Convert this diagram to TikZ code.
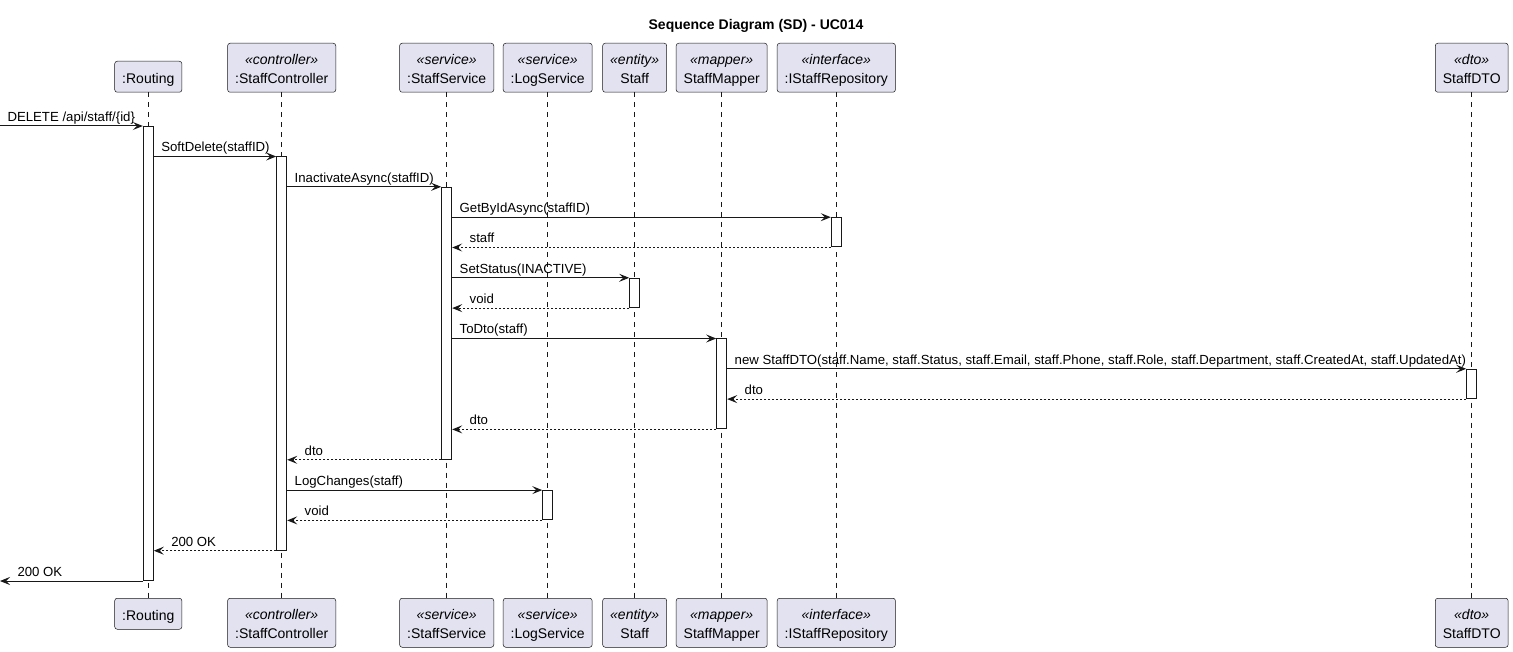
\documentclass[tikz,border=0pt]{standalone}
\usepackage{fontspec}
\setmainfont{Liberation Sans}
\usetikzlibrary{arrows.meta}
\definecolor{partfill}{HTML}{E2E2F0}
\definecolor{umlline}{HTML}{181818}
% stereotype on top, participant name below
\newcommand{\twoline}[2]{\rule{0pt}{21.3pt}\textit{«#1»}\\#2\rule[-8.7pt]{0pt}{8.7pt}}
\tikzset{
% participant boxes and activation bars
part base/.style={draw=umlline,line width=0.5pt,fill=partfill,rounded corners=2.5pt,inner xsep=7.5pt,inner ysep=0pt,font=\fontsize{14}{19}\selectfont,anchor=north},
part node/.style={part base,align=center},
part one node/.style={part base,text height=22.3pt,text depth=8.7pt},
act node/.style={draw=umlline,line width=1pt,fill=white,minimum width=10pt,inner sep=0pt,anchor=north},
lifeline/.style={draw=umlline,line width=0.5pt,dash pattern=on 5pt off 5pt},
% messages and their labels
msg/.style={color=umlline,line width=1pt,-{Stealth[length=10pt,width=8pt,inset=4pt]}},
ret/.style={msg,dash pattern=on 2pt off 2pt},
lbl/.style={anchor=base west,yshift=4.5pt,inner sep=0pt,text=black,font=\fontsize{13.2}{15}\selectfont},
call label/.style={lbl,pos=0,xshift=7pt},
ret label/.style={lbl,pos=1,xshift=17pt}
}

\begin{document}
\begin{tikzpicture}[x=1pt,y=-1pt]
\useasboundingbox (0,0) rectangle (1513,652);
\node[font=\bfseries\fontsize{14}{17}\selectfont,anchor=base] (title) at (756,30) {Sequence Diagram (SD) - UC014};

% participants, top row
\node[part one node] (pRouting) at (148.3,61) {:Routing};
\node[part node] (pCtrl) at (281.7,43) {\twoline{controller}{:StaffController}};
\node[part node] (pSvc) at (446.7,43) {\twoline{service}{:StaffService}};
\node[part node] (pLog) at (547.7,43) {\twoline{service}{:LogService}};
\node[part node] (pStaff) at (634.7,43) {\twoline{entity}{Staff}};
\node[part node] (pMapper) at (721.7,43) {\twoline{mapper}{StaffMapper}};
\node[part node] (pRepo) at (836.3,43) {\twoline{interface}{:IStaffRepository}};
\node[part node] (pDto) at (1471.7,43) {\twoline{dto}{StaffDTO}};

% participants, bottom row
\node[part one node] (qRouting) at (148.3,598) {:Routing};
\node[part node] (qCtrl) at (281.7,598) {\twoline{controller}{:StaffController}};
\node[part node] (qSvc) at (446.7,598) {\twoline{service}{:StaffService}};
\node[part node] (qLog) at (547.7,598) {\twoline{service}{:LogService}};
\node[part node] (qStaff) at (634.7,598) {\twoline{entity}{Staff}};
\node[part node] (qMapper) at (721.7,598) {\twoline{mapper}{StaffMapper}};
\node[part node] (qRepo) at (836.3,598) {\twoline{interface}{:IStaffRepository}};
\node[part node] (qDto) at (1471.7,598) {\twoline{dto}{StaffDTO}};

% lifelines
\draw[lifeline] (pRouting) -- (qRouting);
\draw[lifeline] (pCtrl) -- (qCtrl);
\draw[lifeline] (pSvc) -- (qSvc);
\draw[lifeline] (pLog) -- (qLog);
\draw[lifeline] (pStaff) -- (qStaff);
\draw[lifeline] (pMapper) -- (qMapper);
\draw[lifeline] (pRepo) -- (qRepo);
\draw[lifeline] (pDto) -- (qDto);

% activation bars
\node[act node,minimum height=454pt] (aRouting) at (148.3,126) {};
\node[act node,minimum height=393.2pt] (aCtrl) at (281.7,156.5) {};
\node[act node,minimum height=272pt] (aSvc) at (446.7,186.8) {};
\node[act node,minimum height=29.3pt] (aRepo) at (836.3,217.2) {};
\node[act node,minimum height=29.3pt] (aStaff) at (634.7,277.8) {};
\node[act node,minimum height=89.9pt] (aMapper) at (721.7,338.5) {};
\node[act node,minimum height=29.3pt] (aDto) at (1471.7,368.8) {};
\node[act node,minimum height=29.3pt] (aLog) at (547.7,490.1) {};

\coordinate (entry) at (aRouting.north -| 0,0);
\coordinate (exit) at (aRouting.south -| 0,0);

% messages
\path [msg] (entry) edge node[call label] {DELETE /api/staff/\{id\}} (aRouting.north west);
\path [msg] (aRouting.east |- aCtrl.north) edge node[call label] {SoftDelete(staffID)} (aCtrl.north west);
\path [msg] (aCtrl.east |- aSvc.north) edge node[call label] {InactivateAsync(staffID)} (aSvc.north west);
\path [msg] (aSvc.east |- aRepo.north) edge node[call label] {GetByIdAsync(staffID)} (aRepo.north west);
\path [ret] (aRepo.south west) edge node[ret label] {staff} (aSvc.east |- aRepo.south);
\path [msg] (aSvc.east |- aStaff.north) edge node[call label] {SetStatus(INACTIVE)} (aStaff.north west);
\path [ret] (aStaff.south west) edge node[ret label] {void} (aSvc.east |- aStaff.south);
\path [msg] (aSvc.east |- aMapper.north) edge node[call label] {ToDto(staff)} (aMapper.north west);
\path [msg] (aMapper.east |- aDto.north) edge node[call label] {new StaffDTO(staff.Name, staff.Status, staff.Email, staff.Phone, staff.Role, staff.Department, staff.CreatedAt, staff.UpdatedAt)} (aDto.north west);
\path [ret] (aDto.south west) edge node[ret label] {dto} (aMapper.east |- aDto.south);
\path [ret] (aMapper.south west) edge node[ret label] {dto} (aSvc.east |- aMapper.south);
\path [ret] (aSvc.south west) edge node[ret label] {dto} (aCtrl.east |- aSvc.south);
\path [msg] (aCtrl.east |- aLog.north) edge node[call label] {LogChanges(staff)} (aLog.north west);
\path [ret] (aLog.south west) edge node[ret label] {void} (aCtrl.east |- aLog.south);
\path [ret] (aCtrl.south west) edge node[ret label] {200 OK} (aRouting.east |- aCtrl.south);
\path [msg] (aRouting.south west) edge node[ret label] {200 OK} (exit);
\end{tikzpicture}
\end{document}
